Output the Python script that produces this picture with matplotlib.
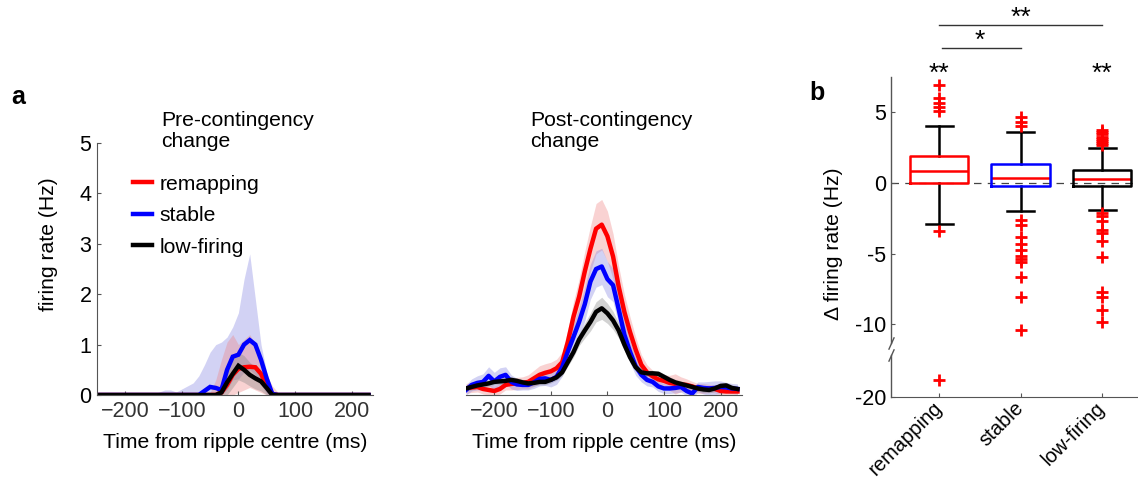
import numpy as np
import matplotlib
matplotlib.use("Agg")
import matplotlib.pyplot as plt
from matplotlib.transforms import blended_transform_factory

plt.rcParams['font.family'] = ['Liberation Sans', 'DejaVu Sans']

# ---------------- data ----------------
time_ms = np.arange(-250, 231, 10)

# Pre-contingency change (mean, lower band, upper band)
pre_remap = [0]*22 + [0.05, 0.2, 0.4, 0.52, 0.55, 0.56, 0.55, 0.42, 0.18, 0.02] + [0]*17
pre_stable = [0]*19 + [0.08, 0.16, 0.14, 0.1, 0.5, 0.76, 0.8, 1.0, 1.09, 1.0, 0.7, 0.33, 0.02] + [0]*17
pre_low = [0]*22 + [0.05, 0.25, 0.42, 0.58, 0.5, 0.4, 0.33, 0.27, 0.14, 0.0] + [0]*17

pre_stable_hi = [0]*10 + [0.02, 0.06, 0.1, 0.1, 0.06, 0.12, 0.18, 0.24, 0.38, 0.6, 0.85, 1.0,
                          1.05, 1.15, 1.35, 1.63, 2.3, 2.8, 1.9, 1.0, 0.45, 0.1] + [0]*17
pre_stable_lo = [0]*23 + [0.1, 0.3, 0.32, 0.45, 0.5, 0.4, 0.2, 0.02] + [0]*18
pre_remap_hi = [0]*20 + [0.05, 0.3, 0.7, 1.05, 1.2, 1.0, 1.1, 1.2, 1.0, 0.75, 0.4, 0.18, 0.05] + [0]*16
pre_remap_lo = [0]*25 + [0.05, 0.1, 0.15, 0.1, 0.05] + [0]*19
pre_low_hi = [0]*21 + [0.05, 0.25, 0.5, 0.7, 0.85, 0.78, 0.65, 0.55, 0.45, 0.3, 0.08] + [0]*17
pre_low_lo = [0]*24 + [0.15, 0.3, 0.25, 0.18, 0.12, 0.08] + [0]*19

# Post-contingency change (mean and half-width of shaded band)
post_remap = [0.13, 0.15, 0.16, 0.12, 0.10, 0.08, 0.12, 0.20, 0.22, 0.23,
              0.24, 0.26, 0.33, 0.40, 0.44, 0.47, 0.53, 0.65, 1.05, 1.55,
              1.95, 2.45, 2.90, 3.30, 3.38, 3.15, 2.75, 2.15, 1.65, 1.25,
              0.90, 0.60, 0.45, 0.37, 0.31, 0.28, 0.24, 0.22, 0.21, 0.20,
              0.17, 0.13, 0.13, 0.13, 0.12, 0.08, 0.07, 0.07, 0.07]
post_stable = [0.10, 0.20, 0.24, 0.26, 0.38, 0.27, 0.36, 0.40, 0.26, 0.21,
               0.20, 0.20, 0.25, 0.32, 0.33, 0.30, 0.36, 0.55, 0.86, 1.15,
               1.45, 1.80, 2.25, 2.50, 2.55, 2.30, 2.18, 1.70, 1.20, 0.86,
               0.57, 0.40, 0.30, 0.26, 0.17, 0.13, 0.13, 0.14, 0.16, 0.08,
               0.03, 0.16, 0.14, 0.13, 0.14, 0.16, 0.15, 0.13, 0.12]
post_low = [0.13, 0.16, 0.19, 0.21, 0.23, 0.26, 0.27, 0.28, 0.30, 0.28,
            0.25, 0.23, 0.24, 0.26, 0.26, 0.30, 0.35, 0.45, 0.65, 0.85,
            1.10, 1.28, 1.45, 1.65, 1.72, 1.62, 1.48, 1.28, 1.00, 0.75,
            0.55, 0.45, 0.43, 0.43, 0.42, 0.36, 0.30, 0.25, 0.22, 0.19,
            0.16, 0.13, 0.11, 0.10, 0.13, 0.18, 0.19, 0.14, 0.12]
post_remap_err = [0.1]*8 + [0.12, 0.12, 0.12, 0.14, 0.16, 0.18, 0.18, 0.18, 0.18, 0.2,
                            0.25, 0.3, 0.35, 0.4, 0.45, 0.5, 0.5, 0.5, 0.45, 0.4,
                            0.35, 0.3, 0.25, 0.2, 0.15, 0.12, 0.12, 0.12, 0.15, 0.2,
                            0.15, 0.12, 0.1, 0.1, 0.1, 0.08, 0.08, 0.08, 0.08, 0.08,
                            0.08]
post_stable_err = [0.1, 0.12, 0.14, 0.16, 0.18, 0.18, 0.18, 0.16, 0.14, 0.12,
                   0.1, 0.1, 0.12, 0.14, 0.14, 0.14, 0.15, 0.18, 0.22, 0.26,
                   0.3, 0.33, 0.35, 0.36, 0.36, 0.35, 0.33, 0.3, 0.26, 0.22,
                   0.18, 0.14, 0.12, 0.1, 0.1, 0.1, 0.1, 0.1, 0.1, 0.1,
                   0.1, 0.1, 0.12, 0.14, 0.14, 0.12, 0.1, 0.1, 0.1]
post_low_err = [0.06]*17 + [0.07, 0.08, 0.1, 0.12, 0.15, 0.18, 0.2, 0.22, 0.2, 0.18,
                            0.15, 0.12, 0.1, 0.08, 0.07] + [0.06]*17

# Box plot (b): Δ firing rate (Hz)
box_labels = ['remapping', 'stable', 'low-firing']
box_q1 = [0.0, -0.22, -0.18]
box_med = [0.88, 0.32, 0.28]
box_q3 = [1.92, 1.32, 0.92]
box_whislo = [-2.9, -1.95, -1.88]
box_whishi = [4.0, 3.6, 2.5]
fliers_remap = [6.95, 6.0, 5.65, 5.38, 5.12, -3.38, -18.4]
fliers_stable = [4.65, 4.35, 4.02, -2.62, -3.0, -3.85, -4.3, -4.72, -5.15, -5.35, -5.6,
                 -6.65, -8.05, -10.4]
fliers_low = [3.78, 3.6, 3.45, 3.25, 3.1, 2.95, 2.82, 2.68, -2.12, -2.35, -2.7, -3.3,
              -3.55, -4.1, -5.25, -7.75, -8.05, -9.0, -9.85]

series_colors = ['#ff0000', '#0000ff', '#000000']

FS = 15.2
TFS = 15.5

# ---------------- figure ----------------
fig = plt.figure(figsize=(11.38, 4.82), dpi=100)

def px(x0, y0, w, h):
    W, H = 1138.0, 482.0
    return [x0 / W, 1 - (y0 + h) / H, w / W, h / H]

ax1 = fig.add_axes(px(97, 143, 276, 252))
ax2 = fig.add_axes(px(466, 143, 276, 252))

pre_means = [pre_remap, pre_stable, pre_low]
pre_los = [pre_remap_lo, pre_stable_lo, pre_low_lo]
pre_his = [pre_remap_hi, pre_stable_hi, pre_low_hi]
band_colors = ['#f08080', '#8080e0', '#808080']
names = ['remapping', 'stable', 'low-firing']

for i in [1, 0, 2]:
    ax1.fill_between(time_ms, pre_los[i], pre_his[i], color=band_colors[i],
                     alpha=0.35, lw=0)
for i in range(3):
    ax1.plot(time_ms, pre_means[i], color=series_colors[i], lw=3.2,
             label=names[i], solid_joinstyle='miter')

post_means = [post_remap, post_stable, post_low]
post_errs = [post_remap_err, post_stable_err, post_low_err]
for i in range(3):
    m = np.array(post_means[i]); e = np.array(post_errs[i])
    ax2.fill_between(time_ms, m - e, m + e, color=band_colors[i], alpha=0.35, lw=0)
for i in range(3):
    ax2.plot(time_ms, post_means[i], color=series_colors[i], lw=3.2)

spine_gray = '#555555'
for ax in (ax1, ax2):
    ax.set_xlim(-250, 238)
    ax.set_ylim(0, 5)
    ax.set_xticks([-200, -100, 0, 100, 200])
    for s in ['top', 'right']:
        ax.spines[s].set_visible(False)
    ax.spines['bottom'].set_color(spine_gray)
    ax.spines['left'].set_color(spine_gray)
    ax.tick_params(direction='in', length=3, width=0.8, color=spine_gray,
                   labelsize=TFS, pad=4)
    ax.tick_params(axis='x', labelcolor='#333333', pad=4)
    ax.set_xlabel('Time from ripple centre (ms)', fontsize=FS)
    ax.xaxis.set_label_coords(0.5, -0.15)
    ax.patch.set_alpha(0)

ax1.set_yticks([0, 1, 2, 3, 4, 5])
ax1.set_ylabel('firing rate (Hz)', fontsize=FS)
ax1.yaxis.set_label_coords(-0.14, 0.6)
ax2.spines['left'].set_visible(False)
ax2.set_yticks([])

leg = ax1.legend(loc='upper left', bbox_to_anchor=(0.13, 0.875), frameon=False,
                 fontsize=FS, handlelength=0.9, handletextpad=0.35,
                 labelspacing=0.6, borderpad=0, borderaxespad=0)

fig.text(161 / 1138, 1 - 111 / 482, 'Pre-contingency\nchange', ha='left', va='top',
         fontsize=FS, linespacing=1.12)
fig.text(530 / 1138, 1 - 111 / 482, 'Post-contingency\nchange', ha='left', va='top',
         fontsize=FS, linespacing=1.12)
fig.text(18 / 1138, 1 - 97 / 482, 'a', ha='center', va='center', fontsize=18,
         fontweight='bold')
fig.text(817 / 1138, 1 - 93 / 482, 'b', ha='center', va='center', fontsize=18,
         fontweight='bold')

# ---------------- box plot with broken axis ----------------
ax3 = fig.add_axes(px(891, 77, 260, 320))

yb = np.array([-100.0, -20.0, -16.0, -11.3, 100.0])
fb = np.array([-75.15, -15.15, -12.15, -11.3, 100.0])

def fwd(y):
    return np.interp(y, yb, fb)

def inv(f):
    return np.interp(f, fb, yb)

ax3.set_yscale('function', functions=(fwd, inv))

fliers = [fliers_remap, fliers_stable, fliers_low]
stats = []
for i in range(3):
    stats.append(dict(label=box_labels[i], q1=box_q1[i], med=box_med[i], q3=box_q3[i],
                      whislo=box_whislo[i], whishi=box_whishi[i],
                      fliers=np.array(fliers[i])))

ax3.axhline(0, color='#444444', lw=0.9, ls=(0, (6, 5)), zorder=0)
bp = ax3.bxp(stats, positions=[1, 2, 3], widths=0.72, capwidths=0.33,
             showfliers=True,
             boxprops=dict(lw=1.8),
             whiskerprops=dict(color='black', lw=1.8),
             capprops=dict(color='black', lw=1.8),
             medianprops=dict(color='#ff0000', lw=1.8),
             flierprops=dict(marker='+', markeredgecolor='#ff0000', markersize=8,
                             markeredgewidth=2.0, linestyle='none'))
for i, b in enumerate(bp['boxes']):
    b.set_color(series_colors[i])
    b.set_zorder(3)

ax3.set_xlim(0.41, 3.6)
ax3.set_ylim(-20, 7.5)
ax3.set_yticks([-20, -10, -5, 0, 5])
ax3.set_yticklabels(['-20', '-10', '-5', '0', '5'])
ax3.minorticks_off()
ax3.set_xticks([1, 2, 3])
ax3.set_xticklabels(box_labels, rotation=45, ha='right', va='center',
                    rotation_mode='anchor', fontsize=14.5)
ax3.tick_params(direction='in', length=3, width=0.8, color=spine_gray,
                labelsize=TFS)
ax3.tick_params(axis='x', pad=6, labelsize=14.5)
for s in ['top', 'right', 'left']:
    ax3.spines[s].set_visible(False)
ax3.spines['bottom'].set_color(spine_gray)
ax3.set_ylabel('\u0394 firing rate (Hz)', fontsize=FS)
ax3.yaxis.set_label_coords(-0.185, 0.48)
ax3.patch.set_alpha(0)

# broken left spine
tr = blended_transform_factory(ax3.transAxes, ax3.transData)
ax3.plot([0, 0], [-11.3, 7.5], transform=tr, color=spine_gray, lw=1.0, clip_on=False)
ax3.plot([0, 0], [-20, -16.0], transform=tr, color=spine_gray, lw=1.0, clip_on=False)
ax3.plot([0, 0], [-11.3, -16.0], transform=tr, linestyle='none',
         marker=[(-0.45, -1), (0.45, 1)], markersize=9, markeredgewidth=1.0,
         markeredgecolor=spine_gray, clip_on=False)

# significance annotations
trf = blended_transform_factory(ax3.transData, fig.transFigure)
def fy(p):
    return 1 - p / 482.0
ax3.plot([1, 3], [fy(25), fy(25)], transform=trf, color='#333333', lw=1.0, clip_on=False)
ax3.plot([1.04, 2], [fy(48), fy(48)], transform=trf, color='#333333', lw=1.0, clip_on=False)
ax3.text(2.0, fy(18), '**', transform=trf, ha='center', va='center', fontsize=19)
ax3.text(1.5, fy(41), '*', transform=trf, ha='center', va='center', fontsize=19)
ax3.text(1, fy(74), '**', transform=trf, ha='center', va='center', fontsize=19)
ax3.text(3, fy(74), '**', transform=trf, ha='center', va='center', fontsize=19)

fig.savefig('out.png', dpi=100)
